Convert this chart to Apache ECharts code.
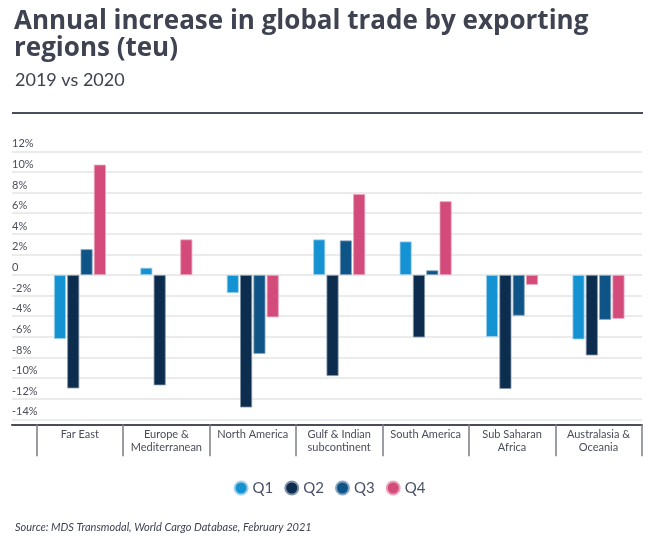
<!DOCTYPE html>
<html>
<head>
<meta charset="utf-8">
<script src="https://cdn.jsdelivr.net/npm/echarts@6/dist/echarts.min.js"></script>
<style>
html,body{margin:0;padding:0;background:#fff;}
#chart{width:659px;height:536px;}
</style>
</head>
<body>
<div id="chart"></div>
<script>
var categories = ['Far East', 'Europe &\nMediterranean', 'North America', 'Gulf & Indian\nsubcontinent', 'South America', 'Sub Saharan\nAfrica', 'Australasia &\nOceania'];
var seriesNames = ['Q1', 'Q2', 'Q3', 'Q4'];
var q1 = [-6.2, 0.7, -1.75, 3.45, 3.25, -6.0, -6.25];
var q2 = [-11.0, -10.7, -12.85, -9.8, -6.05, -11.05, -7.8];
var q3 = [2.5, null, -7.65, 3.35, 0.45, -3.95, -4.35];
var q4 = [10.7, 3.45, -4.1, 7.85, 7.15, -0.95, -4.25];
var yTicks = [-14, -12, -10, -8, -6, -4, -2, 0, 2, 4, 6, 8, 10, 12];
var colors = ['#1592d1', '#0c2d4e', '#0f5486', '#d34b7b'];
var borderColors = ['#9fd0ec', '#7f93a8', '#86a6c0', '#eba2bb'];

var seriesData = [q1, q2, q3, q4];
var chart = echarts.init(document.getElementById('chart'), null, {renderer: 'canvas'});
var FONT = 'Lato';
var yMin = yTicks[0], yMax = yTicks[yTicks.length - 1], yStep = yTicks[1] - yTicks[0];

var option = {
  backgroundColor: '#ffffff',
  animation: false,
  textStyle: {fontFamily: FONT},
  title: [
    {
      text: 'Annual increase in global trade by exporting\nregions (teu)',
      left: 9, top: 3,
      textStyle: {fontFamily: 'Open Sans', fontSize: 26, fontWeight: 'bold', color: '#3e4251', lineHeight: 27}
    },
    {
      text: '2019 vs 2020',
      left: 10, top: 66,
      textStyle: {fontFamily: FONT, fontSize: 18, fontWeight: 'normal', color: '#3e4251'}
    },
    {
      text: 'Source: MDS Transmodal, World Cargo Database, February 2021',
      left: 10, top: 517,
      textStyle: {fontFamily: FONT, fontSize: 11, fontStyle: 'italic', fontWeight: 'normal', color: '#3e4251'}
    }
  ],
  graphic: [
    {type: 'line', shape: {x1: 12, y1: 113, x2: 643, y2: 113}, style: {stroke: '#4a4d5a', lineWidth: 2}}
  ],
  legend: {
    data: seriesNames,
    top: 475.5,
    left: 'center',
    icon: 'circle',
    itemWidth: 13, itemHeight: 13,
    itemGap: 11,
    textStyle: {fontFamily: FONT, fontSize: 15, color: '#4a5068'}
  },
  grid: [
    {left: 12, right: 17, top: 151.3, bottom: 116.7},
    {left: 36.7, right: 17.3, top: 151.3, bottom: 116.7}
  ],
  xAxis: [
    {
      type: 'category', gridIndex: 0, data: [''], offset: 5,
      axisLine: {show: true, onZero: false, lineStyle: {color: '#4a4d5a', width: 2}},
      axisTick: {show: false}, axisLabel: {show: false}, splitLine: {show: false}
    },
    {
      type: 'category', gridIndex: 1, data: categories, offset: 5,
      axisLine: {show: false, onZero: false},
      axisTick: {show: true, length: 32, interval: 0, lineStyle: {color: '#7b7e88', width: 1.5}},
      axisLabel: {interval: 0, margin: 4, fontFamily: FONT, fontSize: 11, lineHeight: 13, color: '#4a4d5a'},
      splitLine: {show: false}
    }
  ],
  yAxis: [
    {
      type: 'value', gridIndex: 0, min: yMin, max: yMax, interval: yStep,
      axisLine: {show: false}, axisTick: {show: false},
      axisLabel: {
        inside: true, margin: 0, verticalAlign: 'bottom', padding: [0, 0, 2, 0],
        fontFamily: FONT, fontSize: 11, color: '#4a4d5a',
        formatter: function (v) { return v === 0 ? '0' : v + '%'; }
      },
      splitLine: {show: true, lineStyle: {color: '#e4e4e4', width: 1.5}}
    },
    {
      type: 'value', gridIndex: 1, min: yMin, max: yMax, interval: yStep,
      show: false, splitLine: {show: false}
    }
  ],
  series: seriesNames.map(function (name, i) {
    return {
      name: name, type: 'bar', xAxisIndex: 1, yAxisIndex: 1,
      data: seriesData[i],
      barWidth: 12, barGap: '11%',
      itemStyle: {color: colors[i], borderColor: borderColors[i], borderWidth: 0.8}
    };
  })
};
chart.setOption(option);
</script>
</body>
</html>
